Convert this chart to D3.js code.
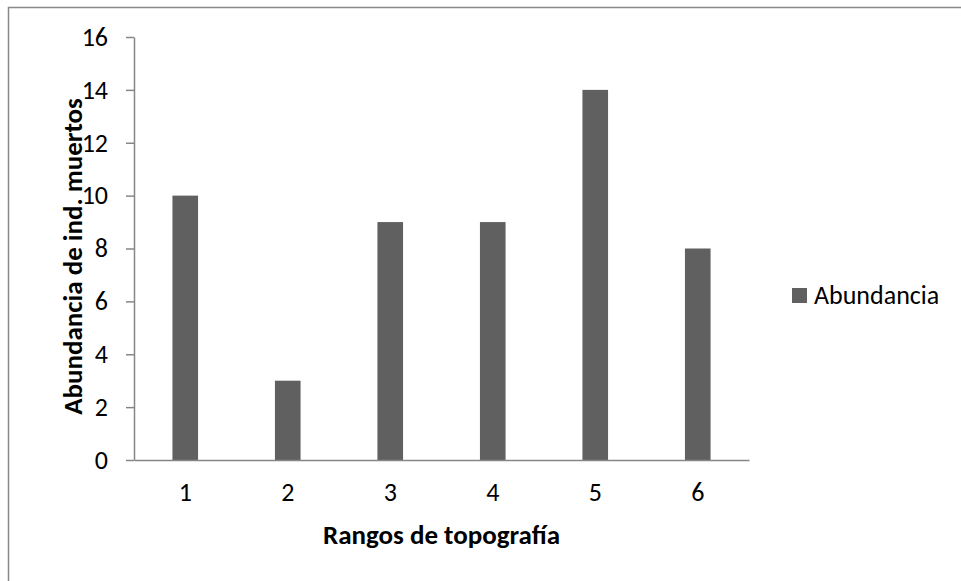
<!DOCTYPE html>
<html><head><meta charset="utf-8">
<script src="https://cdn.jsdelivr.net/npm/d3@7"></script>
<style>body{margin:0;background:#fff}svg{display:block}text{font-family:Carlito,Calibri,Lato,"Open Sans",sans-serif;fill:#000}</style>
</head><body>
<script>
const categories = ["1","2","3","4","5","6"];
const values = [10,3,9,9,14,8];
const yTicks = [0,2,4,6,8,10,12,14,16];
const seriesName = "Abundancia";
const xTitle = "Rangos de topografía";
const yTitle = "Abundancia de ind. muertos";

(function(){
const W=961,H=581;
const svg=d3.select("body").append("svg").attr("width",W).attr("height",H);
svg.append("rect").attr("x",8.5).attr("y",7.5).attr("width",W+20).attr("height",H+20)
  .attr("fill","#fff").attr("stroke","#898989").attr("stroke-width",1.5);

const pLeft=134,pRight=749,pTop=37,pBottom=460;
const x=d3.scaleBand().domain(categories).range([pLeft,pRight]);
const y=d3.scaleLinear().domain([0,16]).range([pBottom,pTop]);
const bw=x.bandwidth()*0.25;

svg.selectAll("rect.bar").data(values).join("rect").attr("class","bar")
  .attr("x",(d,i)=>x(categories[i])+x.bandwidth()/2-bw/2)
  .attr("y",d=>y(d)).attr("width",bw).attr("height",d=>y(0)-y(d))
  .attr("fill","#606060");

const ya=svg.append("g").attr("transform",`translate(${pLeft},0)`)
  .call(d3.axisLeft(y).tickValues(yTicks).tickSize(8).tickPadding(18).tickSizeOuter(0));
ya.select(".domain").attr("stroke","#868686").attr("stroke-width",1.5);
ya.selectAll(".tick line").attr("stroke","#868686").attr("stroke-width",1.5);
ya.selectAll("text").style("font-size","26px").attr("fill","#000");

const xa=svg.append("g").attr("transform",`translate(0,${pBottom})`)
  .call(d3.axisBottom(x).tickSize(0).tickPadding(23).tickSizeOuter(0));
xa.select(".domain").attr("stroke","#868686").attr("stroke-width",1.5);
xa.selectAll("text").style("font-size","26px").attr("fill","#000");

svg.append("text").attr("x",(pLeft+pRight)/2).attr("y",544).attr("text-anchor","middle")
  .style("font-size","27px").style("font-weight","bold").text(xTitle);
svg.append("text").attr("transform",`translate(82,${(pTop+pBottom)/2+8}) rotate(-90)`).attr("text-anchor","middle")
  .style("font-size","27px").style("font-weight","bold").text(yTitle);

svg.append("rect").attr("x",792).attr("y",288).attr("width",15).attr("height",15).attr("fill","#606060");
svg.append("text").attr("x",814).attr("y",304).style("font-size","26px").text(seriesName);
})();
</script>
</body></html>
